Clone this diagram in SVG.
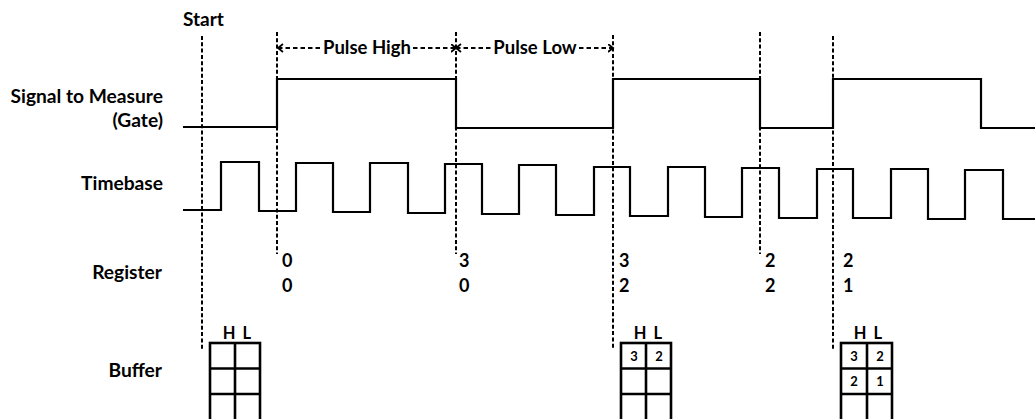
<svg xmlns="http://www.w3.org/2000/svg" width="1035" height="419" viewBox="0 0 1035 419">
<style>
text{font-family:Lato,"Open Sans",sans-serif;font-weight:bold;fill:#000}
.lbl{font-size:19.2px;text-anchor:end}
.num{font-size:18px}
.hl{font-size:16.5px;text-anchor:middle;word-spacing:3px}
.cell{font-size:13px;text-anchor:middle}
.sig{fill:none;stroke:#000;stroke-width:2.2;stroke-linejoin:miter}
.vd{fill:none;stroke:#000;stroke-width:2;stroke-dasharray:4 2.3}
.arr{fill:none;stroke:#000;stroke-width:1.8;stroke-dasharray:4.5 3;marker-start:url(#chev);marker-end:url(#chev)}
.buf{fill:none;stroke:#000;stroke-width:2.6}
</style>
<defs>
<marker id="chev" markerUnits="userSpaceOnUse" markerWidth="8" markerHeight="10" refX="5.5" refY="4.5" orient="auto-start-reverse" viewBox="0 0 8 10">
<path d="M0.5,0.5 L5.5,4.5 L0.5,8.5" fill="none" stroke="#000" stroke-width="1.8"/>
</marker>
</defs>

<g id="labels">
<text x="183" y="26" style="font-size:19px">Start</text>
<text class="lbl" x="163" y="103">Signal to Measure</text>
<text class="lbl" x="163" y="127">(Gate)</text>
<text class="lbl" x="163" y="190">Timebase</text>
<text class="lbl" x="162" y="279">Register</text>
<text class="lbl" x="162" y="377">Buffer</text>
</g>

<g id="gate">
<polyline class="sig" points="183,127 277,127 277,79 456,79 456,128 613,128 613,79 760,79 760,128 833,128 833,79 981,79 981,128 1035,128"/>
</g>

<g id="timebase">
<polyline class="sig" points="183,210 221,210 221,162 259,162 259,211 296,211 296,163 333,163 333,212 370,212 370,163 408,163 408,213 445,213 445,164 482,164 482,214 519,214 519,165 556,165 556,215 594,215 594,167 630,167 630,216 668,216 668,167 705,167 705,217 742,217 742,168 779,168 779,218 817,218 817,169 853,169 853,218 891,218 891,169 928,169 928,219 965,219 965,170 1003,170 1003,219 1035,219"/>
</g>

<g id="connectors">
<line class="vd" x1="202" y1="36" x2="202" y2="350"/>
<line class="vd" x1="277" y1="32" x2="277" y2="254"/>
<line class="vd" x1="456" y1="32" x2="456" y2="254"/>
<line class="vd" x1="613" y1="35" x2="613" y2="350"/>
<line class="vd" x1="760" y1="32" x2="760" y2="254"/>
<line class="vd" x1="833" y1="36" x2="833" y2="351"/>
<path class="arr" d="M278,48 H321 M413,48 H456"/>
<path class="arr" d="M456,48 H491 M579,48 H613"/>
</g>

<g id="pulse-labels">
<text x="367" y="54" style="font-size:18.5px;text-anchor:middle">Pulse High</text>
<text x="535" y="54" style="font-size:18.5px;text-anchor:middle">Pulse Low</text>
</g>

<g id="register">
<text class="num" x="282" y="267">0</text>
<text class="num" x="282" y="292">0</text>
<text class="num" x="459" y="267">3</text>
<text class="num" x="459" y="292">0</text>
<text class="num" x="619" y="267">3</text>
<text class="num" x="619" y="292">2</text>
<text class="num" x="765" y="267">2</text>
<text class="num" x="765" y="292">2</text>
<text class="num" x="843" y="267">2</text>
<text class="num" x="843" y="292">1</text>
</g>

<g id="buffer1">
<text class="hl" x="237" y="339">H L</text>
<rect class="buf" x="210" y="343" width="50" height="79"/>
<path class="buf" d="M235,343 V422 M210,368.5 H260 M210,394 H260"/>
</g>

<g id="buffer2">
<text class="hl" x="648" y="339">H L</text>
<rect class="buf" x="621" y="343" width="50" height="79"/>
<path class="buf" d="M646,343 V422 M621,368.5 H671 M621,394 H671"/>
<text class="cell" x="634" y="361">3</text>
<text class="cell" x="659" y="361">2</text>
</g>

<g id="buffer3">
<text class="hl" x="868" y="339">H L</text>
<rect class="buf" x="841" y="343" width="51" height="79"/>
<path class="buf" d="M867,343 V422 M841,368.5 H892 M841,394 H892"/>
<text class="cell" x="854" y="361">3</text>
<text class="cell" x="880" y="361">2</text>
<text class="cell" x="854" y="386">2</text>
<text class="cell" x="880" y="386">1</text>
</g>
</svg>
